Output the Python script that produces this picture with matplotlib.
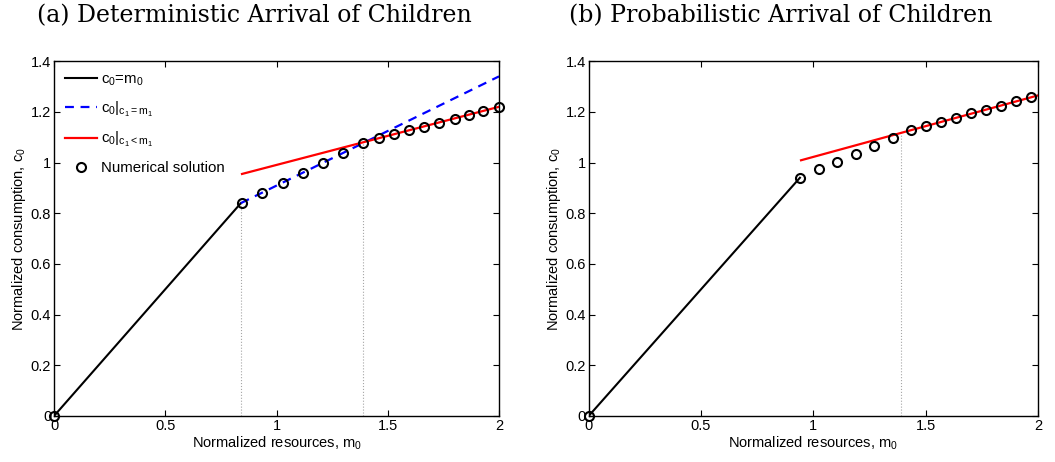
import matplotlib.pyplot as plt
import numpy as np

plt.rcParams["font.family"] = ["Liberation Sans", "DejaVu Sans"]
plt.rcParams["mathtext.default"] = "regular"

# (a) deterministic arrival
det_kink = 0.84
det_switch = 1.39
det_num_x = [0.0, 0.845, 0.935, 1.03, 1.12, 1.21, 1.30, 1.39, 1.46, 1.53,
             1.595, 1.665, 1.73, 1.80, 1.865, 1.93, 2.0]
det_num_y = [0.0, 0.841, 0.881, 0.920, 0.958, 0.998, 1.037, 1.077, 1.095, 1.111,
             1.127, 1.141, 1.157, 1.172, 1.188, 1.204, 1.220]
det_blue_x = [0.84, 2.0]
det_blue_y = [0.84, 1.34]
det_red_x = [0.845, 2.0]
det_red_y = [0.955, 1.22]

# (b) probabilistic arrival
prob_kink = 0.94
prob_switch = 1.39
prob_num_x = [0.0, 0.94, 1.025, 1.107, 1.19, 1.27, 1.352, 1.433, 1.502, 1.568,
              1.635, 1.702, 1.769, 1.835, 1.902, 1.97]
prob_num_y = [0.0, 0.940, 0.973, 1.004, 1.034, 1.066, 1.096, 1.127, 1.144, 1.160,
              1.176, 1.194, 1.208, 1.225, 1.241, 1.257]
prob_red_x = [0.945, 2.0]
prob_red_y = [1.009, 1.265]
prob_switch_y = 1.115

titles = ["(a) Deterministic Arrival of Children", "(b) Probabilistic Arrival of Children"]

fig = plt.figure(figsize=(10.55, 4.62), dpi=100)
ax1 = fig.add_axes([0.0512, 0.0996, 0.4218, 0.768])
ax2 = fig.add_axes([0.558, 0.0996, 0.426, 0.768])


def style_axes(ax):
    ax.set_xlim(0, 2)
    ax.set_ylim(0, 1.4)
    ax.set_xticks([0, 0.5, 1, 1.5, 2])
    ax.set_xticklabels(["0", "0.5", "1", "1.5", "2"])
    ax.set_yticks(np.arange(0, 1.41, 0.2))
    ax.set_yticklabels(["0", "0.2", "0.4", "0.6", "0.8", "1", "1.2", "1.4"])
    ax.tick_params(direction="in", top=True, right=True, labelsize=10.5,
                   length=4, width=0.8, pad=2)
    for s in ax.spines.values():
        s.set_linewidth(1.0)
    ax.set_xlabel("Normalized resources, $m_0$", fontsize=10.5, labelpad=1)
    ax.set_ylabel("Normalized consumption, $c_0$", fontsize=10.5, labelpad=2)


# left panel
ax1.plot([det_kink, det_kink], [0, det_kink], color="0.65", linestyle=":", linewidth=0.8)
ax1.plot([det_switch, det_switch], [0, 1.077], color="0.65", linestyle=":", linewidth=0.8)
ax1.plot([0, det_kink], [0, det_kink], color="black", linewidth=1.5, label="$c_0$=$m_0$")
ax1.plot(det_blue_x, det_blue_y, color="blue", linestyle="--", linewidth=1.6,
         dashes=(4, 3), label="$c_0|_{c_1=m_1}$")
ax1.plot(det_red_x, det_red_y, color="red", linewidth=1.6, label="$c_0|_{c_1<m_1}$")
ax1.plot(det_num_x, det_num_y, linestyle="none", marker="o", markersize=6.5,
         markerfacecolor="none", markeredgecolor="black", markeredgewidth=1.5,
         label="Numerical solution", clip_on=False)
style_axes(ax1)
leg = ax1.legend(loc="upper left", frameon=False, fontsize=10.8, handlelength=2.1,
                 labelspacing=0.78, borderaxespad=0.35, handletextpad=0.3,
                 borderpad=0.4)

# right panel
ax2.plot([prob_switch, prob_switch], [0, prob_switch_y], color="0.65", linestyle=":", linewidth=0.8)
ax2.plot([0, prob_kink], [0, prob_kink], color="black", linewidth=1.5)
ax2.plot(prob_red_x, prob_red_y, color="red", linewidth=1.6)
ax2.plot(prob_num_x, prob_num_y, linestyle="none", marker="o", markersize=6.5,
         markerfacecolor="none", markeredgecolor="black", markeredgewidth=1.5,
         clip_on=False)
style_axes(ax2)

fig.text(254 / 1055, 1 - 16 / 462, titles[0], ha="center", va="center",
         fontsize=17, family=["DejaVu Serif"])
fig.text(781 / 1055, 1 - 16 / 462, titles[1], ha="center", va="center",
         fontsize=17, family=["DejaVu Serif"])

fig.savefig("out.png", dpi=100)
